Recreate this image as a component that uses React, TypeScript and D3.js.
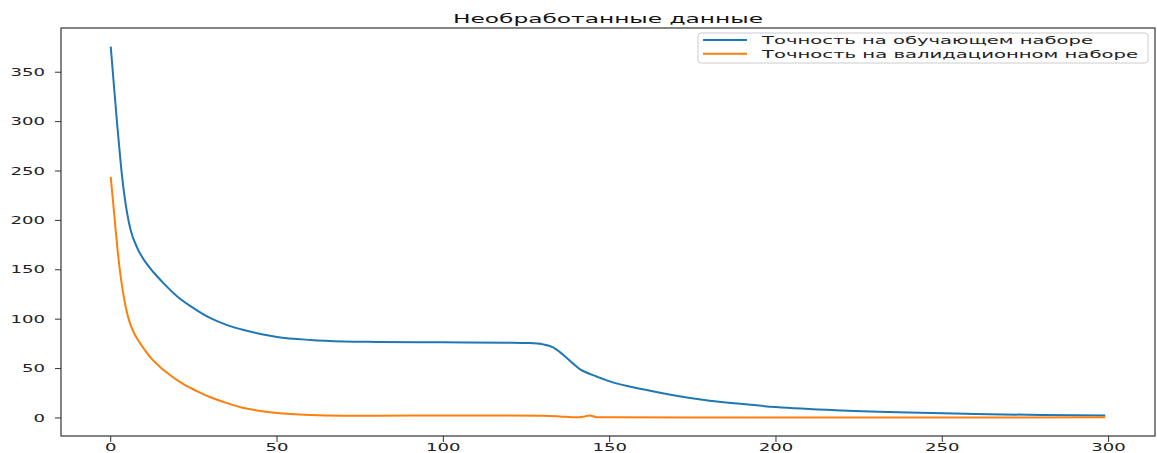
import * as d3 from "d3";

// значения (эпоха -> значение)
const trainEpochs = [0, 1, 2, 3, 4, 5, 6, 8, 10, 13, 16, 20, 25, 30, 35, 40, 45, 50, 60, 70, 80, 100, 120, 126, 130, 133, 136, 139, 141, 143, 146, 150, 160, 170, 180, 190, 200, 220, 240, 260, 280, 299];
const trainValues = [376, 335, 295, 258, 228, 206, 190, 172, 160, 147, 136, 123, 111, 101, 94, 89, 85, 82, 79, 77.5, 77, 76.6, 76.2, 75.8, 74.5, 71.5, 64, 55, 49.5, 46, 42, 37, 29, 22.5, 17.5, 14, 11, 7.5, 5.4, 4, 3, 2.4];

const valEpochs = [0, 1, 2, 3, 4, 5, 6, 7, 8, 10, 12, 15, 18, 22, 26, 30, 35, 40, 45, 50, 60, 70, 80, 100, 120, 130, 135, 140, 142, 144, 146, 150, 200, 250, 299];
const valValues = [244, 208, 172, 143, 121, 105, 94, 86, 80, 70, 61, 51, 43, 34, 27, 21, 15, 10, 7, 5, 3, 2.3, 2.2, 2.5, 2.6, 2.2, 1.5, 0.6, 1.2, 2.6, 0.8, 0.6, 0.5, 0.5, 0.6];

const xTicks = [0, 50, 100, 150, 200, 250, 300];
const yTicks = [0, 50, 100, 150, 200, 250, 300, 350];

const title = "Необработанные данные";
const seriesNames = ["Точность на обучающем наборе", "Точность на валидационном наборе"];
const seriesColors = ["#1f77b4", "#ff7f0e"];

const W = 1157;
const H = 453;
const margin = { top: 28, right: 2, bottom: 17, left: 61 };
const font = "DejaVu Sans, sans-serif";
const digitW = 11.5;

type P = [number, number];

export default function App() {
  const train: P[] = trainEpochs.map((e, i) => [e, trainValues[i]]);
  const val: P[] = valEpochs.map((e, i) => [e, valValues[i]]);

  // поля 5% как в matplotlib
  const xMin = 0, xMax = 299;
  const xPad = (xMax - xMin) * 0.05;
  const all = [...trainValues, ...valValues];
  const yMin = d3.min(all)!, yMax = d3.max(all)!;
  const yPad = (yMax - yMin) * 0.05;

  const x = d3.scaleLinear().domain([xMin - xPad, xMax + xPad]).range([margin.left, W - margin.right]);
  const y = d3.scaleLinear().domain([yMin - yPad, yMax + yPad]).range([H - margin.bottom, margin.top]);

  const line = d3
    .line<P>()
    .x((d) => x(d[0]))
    .y((d) => y(d[1]))
    .curve(d3.curveMonotoneX);

  const x0 = margin.left, x1 = W - margin.right;
  const y0 = margin.top, y1 = H - margin.bottom;

  return (
    <svg width={W} height={H} style={{ position: "absolute", left: 0, top: 0, background: "#fff" }} fontFamily={font}>
      <path d={line(train) ?? ""} fill="none" stroke={seriesColors[0]} strokeWidth={2} />
      <path d={line(val) ?? ""} fill="none" stroke={seriesColors[1]} strokeWidth={2} />

      {/* рамка */}
      <rect x={x0} y={y0} width={x1 - x0} height={y1 - y0} fill="none" stroke="#333" strokeWidth={1.2} />

      {/* ось Y */}
      {yTicks.map((t) => (
        <g key={"y" + t}>
          <line x1={x0 - 6} x2={x0} y1={y(t)} y2={y(t)} stroke="#333" strokeWidth={1} />
          <text
            x={x0 - 16}
            y={y(t)}
            dy="0.36em"
            textAnchor="end"
            fontSize={10}
            fill="#222"
            textLength={String(t).length * digitW}
            lengthAdjust="spacingAndGlyphs"
          >
            {t}
          </text>
        </g>
      ))}

      {/* ось X */}
      {xTicks.map((t) => (
        <g key={"x" + t}>
          <line x1={x(t)} x2={x(t)} y1={y1} y2={y1 + 6} stroke="#333" strokeWidth={1} />
          <text
            x={x(t)}
            y={451}
            textAnchor="middle"
            fontSize={10}
            fill="#222"
            textLength={String(t).length * digitW}
            lengthAdjust="spacingAndGlyphs"
          >
            {t}
          </text>
        </g>
      ))}

      <text
        x={(x0 + x1) / 2}
        y={22.5}
        textAnchor="middle"
        fontSize={12.5}
        fill="#111"
        textLength={310}
        lengthAdjust="spacingAndGlyphs"
      >
        {title}
      </text>

      {/* легенда */}
      <g>
        <rect x={698} y={33} width={450} height={30} rx={3} fill="#fff" fillOpacity={0.8} stroke="#ccc" strokeWidth={1} />
        {seriesNames.map((name, i) => (
          <g key={name}>
            <line x1={703} x2={747} y1={40 + i * 13.7} y2={40 + i * 13.7} stroke={seriesColors[i]} strokeWidth={2} />
            <text
              x={762}
              y={40 + i * 13.7}
              dy="0.36em"
              fontSize={11}
              fill="#222"
              textLength={i === 0 ? 331 : 376}
              lengthAdjust="spacingAndGlyphs"
            >
              {name}
            </text>
          </g>
        ))}
      </g>
    </svg>
  );
}
